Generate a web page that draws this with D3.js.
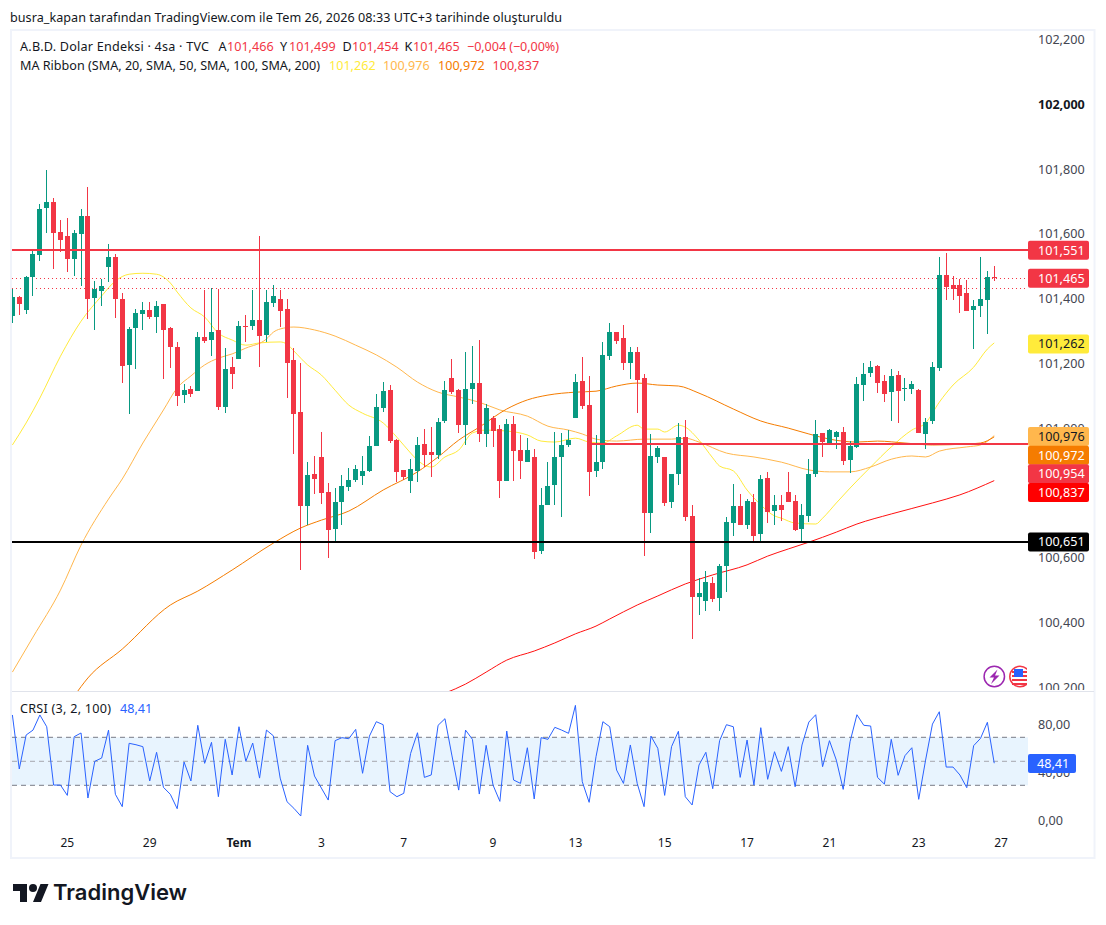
<!DOCTYPE html>
<html lang="tr">
<head>
<meta charset="utf-8">
<title>DXY</title>
<script src="https://cdn.jsdelivr.net/npm/d3@7"></script>
<style>
html,body{margin:0;padding:0;background:#fff}
svg{display:block}
text{font-family:"Noto Sans",sans-serif}
</style>
</head>
<body>
<div id="chart"></div>
<script>
const opens=[101.345,101.403,101.363,101.465,101.533,101.678,101.697,101.604,101.592,101.521,
101.598,101.653,101.400,101.422,101.496,101.527,101.397,101.194,101.308,101.351,
101.363,101.342,101.382,101.308,101.249,101.101,101.120,101.113,101.280,101.271,
101.302,101.064,101.187,101.212,101.314,101.314,101.332,101.286,101.385,101.397,
101.366,101.209,101.049,100.758,100.857,100.910,100.802,100.687,100.771,100.817,
100.839,100.851,100.867,100.944,101.061,101.116,100.962,100.870,100.836,100.867,
100.950,100.925,100.916,101.021,101.153,101.116,101.008,101.120,101.138,100.981,
101.030,100.996,100.836,101.012,100.931,100.894,100.910,100.620,100.762,100.823,
100.910,100.947,101.030,101.144,101.070,100.867,100.894,101.221,101.295,101.277,
101.200,101.234,101.153,100.737,100.910,100.910,100.771,100.857,100.971,100.728,
100.478,100.465,100.521,100.475,100.573,100.706,100.758,100.700,100.771,100.672,
100.845,100.743,100.762,100.802,100.774,100.687,100.728,100.857,100.984,100.950,
100.971,100.987,100.900,100.941,101.132,101.169,101.191,101.144,101.110,101.163,
101.120,101.120,101.116,100.981,101.021,101.184,101.471,101.440,101.440,101.416,
101.363,101.376,101.394,101.466];
const closes=[101.403,101.382,101.465,101.536,101.675,101.697,101.601,101.579,101.521,101.601,
101.653,101.397,101.428,101.437,101.527,101.397,101.191,101.305,101.354,101.363,
101.342,101.376,101.302,101.249,101.098,101.116,101.104,101.280,101.268,101.295,
101.064,101.181,101.166,101.314,101.311,101.332,101.283,101.388,101.407,101.360,
101.200,101.042,100.758,100.854,100.842,100.799,100.684,100.771,100.820,100.839,
100.873,100.867,100.944,101.064,101.113,100.959,100.864,100.848,100.873,100.947,
100.916,100.916,101.018,101.116,101.110,101.008,101.120,101.138,100.981,101.061,
100.990,100.836,101.012,100.928,100.897,100.931,100.617,100.762,100.820,100.910,
100.947,100.962,101.141,101.067,100.864,100.894,101.225,101.295,101.268,101.200,
101.234,101.147,100.737,100.913,100.938,100.768,100.857,100.971,100.725,100.478,
100.490,100.524,100.471,100.573,100.709,100.758,100.700,100.774,100.666,100.842,
100.740,100.762,100.746,100.771,100.684,100.731,100.857,100.981,100.956,100.993,
100.987,100.897,100.944,101.135,101.166,101.187,101.138,101.104,101.160,101.113,
101.123,101.135,100.984,101.018,101.187,101.471,101.434,101.428,101.407,101.360,
101.376,101.397,101.465,101.465];
const highs=[101.428,101.407,101.468,101.549,101.690,101.795,101.709,101.641,101.647,101.610,
101.675,101.743,101.453,101.459,101.567,101.536,101.416,101.311,101.366,101.388,
101.388,101.391,101.382,101.311,101.265,101.135,101.129,101.295,101.425,101.431,
101.428,101.246,101.218,101.329,101.348,101.425,101.592,101.425,101.440,101.425,
101.397,101.246,101.200,100.894,100.913,100.987,100.829,100.814,100.854,100.876,
100.885,100.913,100.975,101.104,101.141,101.132,100.965,100.870,100.903,100.971,
100.996,101.002,101.030,101.144,101.212,101.120,101.234,101.252,101.271,101.073,
101.036,101.008,101.027,101.036,100.978,100.968,100.934,100.814,100.894,100.987,
100.984,100.993,101.166,101.218,101.160,100.978,101.265,101.323,101.295,101.317,
101.249,101.249,101.166,100.981,100.944,100.910,100.857,101.015,101.024,100.762,
100.536,100.558,100.539,100.580,100.725,100.826,100.796,100.780,100.796,100.854,
100.864,100.793,100.793,100.864,100.793,100.765,100.903,101.024,100.984,100.996,
100.990,101.002,100.959,101.157,101.200,101.206,101.194,101.163,101.181,101.175,
101.153,101.144,101.120,101.030,101.203,101.527,101.539,101.468,101.459,101.456,
101.394,101.527,101.484,101.499];
const lows=[101.323,101.348,101.351,101.407,101.515,101.601,101.490,101.542,101.481,101.468,
101.437,101.336,101.302,101.376,101.450,101.339,101.138,101.042,101.181,101.302,
101.336,101.292,101.150,101.184,101.067,101.076,101.095,101.113,101.261,101.221,
101.055,101.045,101.120,101.212,101.265,101.302,101.187,101.265,101.373,101.311,
101.092,100.919,100.561,100.700,100.796,100.765,100.598,100.650,100.700,100.805,
100.833,100.823,100.864,100.944,101.049,100.953,100.833,100.839,100.799,100.833,
100.879,100.848,100.903,101.015,101.104,100.984,100.947,101.073,100.956,100.941,
100.941,100.783,100.836,100.836,100.842,100.894,100.595,100.610,100.762,100.762,
100.725,100.941,101.030,101.058,100.789,100.848,100.873,101.209,101.258,101.178,
101.150,101.045,100.604,100.675,100.891,100.758,100.752,100.823,100.712,100.348,
100.422,100.435,100.462,100.435,100.493,100.666,100.700,100.687,100.647,100.644,
100.706,100.700,100.712,100.771,100.681,100.647,100.709,100.848,100.910,100.947,
100.934,100.885,100.860,100.938,101.083,101.157,101.107,101.079,101.021,101.015,
101.083,101.104,100.984,100.934,101.012,101.175,101.394,101.394,101.354,101.360,
101.243,101.342,101.289,101.454];

const ma20Idx=[0,2,4,7,10,13,15,17,19,21,23,24,26,28,30,32,34,36,39,40,41,43,45,47,49,51,54,56,58,59,61,63,65,67,69,72,75,77,79,82,84,86,88,91,92,94,95,97,98,100,102,103,105,107,109,111,112,114,117,118,120,122,125,128,131,133,135,137,140,142,143];
const ma20=[100.947,101.015,101.092,101.221,101.329,101.407,101.453,101.474,101.477,101.474,101.447,101.419,101.370,101.342,101.292,101.271,101.255,101.262,101.265,101.258,101.237,101.194,101.163,101.116,101.070,101.045,101.015,100.971,100.922,100.900,100.879,100.910,100.931,100.984,100.993,100.990,100.978,100.959,100.956,100.968,100.956,100.953,100.975,101.008,100.996,100.996,100.987,101.008,101.002,100.962,100.907,100.882,100.867,100.808,100.762,100.728,100.721,100.706,100.703,100.721,100.768,100.814,100.879,100.941,100.993,101.015,101.079,101.132,101.187,101.243,101.262];
const ma50Idx=[0,3,7,10,14,16,19,21,22,24,26,28,30,32,34,37,38,39,41,44,47,50,53,56,59,62,65,68,71,75,78,81,83,85,88,92,96,98,100,104,108,112,116,119,122,125,128,131,133,135,139,141,143];
const ma50=[100.246,100.354,100.499,100.638,100.780,100.842,100.953,101.021,101.055,101.123,101.160,101.194,101.215,101.228,101.246,101.274,101.295,101.305,101.311,101.302,101.283,101.255,101.225,101.187,101.141,101.110,101.095,101.079,101.055,101.036,101.005,100.993,100.981,100.965,100.959,100.965,100.965,100.968,100.956,100.922,100.910,100.894,100.870,100.864,100.864,100.879,100.903,100.913,100.910,100.928,100.941,100.947,100.976];
const ma100Idx=[9,11,16,23,27,32,38,42,45,49,54,59,62,65,68,72,75,78,82,85,88,91,94,97,100,105,109,113,116,119,123,126,130,134,139,141,143];
const ma100=[100.172,100.228,100.317,100.453,100.496,100.561,100.644,100.691,100.715,100.743,100.808,100.864,100.910,100.962,101.002,101.058,101.086,101.101,101.110,101.113,101.129,101.138,101.132,101.129,101.107,101.058,101.021,100.999,100.981,100.965,100.956,100.959,100.953,100.947,100.950,100.953,100.972];
const ma200Idx=[63,66,69,72,76,79,82,85,87,91,94,98,102,107,110,113,116,120,123,128,134,138,143];
const ma200=[100.181,100.209,100.246,100.283,100.311,100.336,100.364,100.388,100.410,100.453,100.481,100.518,100.546,100.577,100.604,100.626,100.647,100.678,100.703,100.734,100.768,100.793,100.837];

const crsi=[88.6,43.6,71.9,76,88.6,78.8,30.2,30.2,21.6,70.5,73.6,19.4,50,52.7,76,22.5,12.2,65,63.8,62.2,
33.6,57.5,28.3,22.5,10.5,49.4,33.6,80,48.3,65.8,20.5,68.3,38.6,78.8,50,65.2,36,76,71.3,36,
16.3,10.8,4.4,63.3,37.7,27.7,17.7,67.2,69.7,68.8,76.6,40,71,83,80.5,24.7,20.5,23.3,56.6,73.8,
36.6,38.6,80,85.5,55.2,26,76,68.3,22.7,63.3,30.2,16.6,75.2,34.4,31.6,61.3,18.6,69.7,68.3,78.3,
76,73.3,96.6,33,15.8,53.8,83,78.8,42.7,31.6,63.6,31.6,12.2,71,60.8,21.6,62.2,75,20.5,13.6,
46.9,57.5,27.2,67.2,80.5,78.8,36.6,67.7,30.2,78,35,58,41.6,62.2,28.8,63.6,82.7,88.8,45.5,67.2,
51,26.6,66.3,88.8,80,79.4,36.6,31,68.3,38.3,54.7,61.3,18.3,51,81,91.3,45.2,45.2,38.6,28,
63,69.1,82.5,48.41];

const timeTickIdx=[8,20,33,45,57,70,82,95,107,119,132,144];
const timeTickLabels=["25","29","Tem","3","7","9","13","15","17","21","23","27"];
const priceTicks=[100.2,100.4,100.6,100.8,101.0,101.2,101.4,101.6,101.8,102.0,102.2];
const crsiTicks=[0,40,80];
const lastPrice=101.465, prevLevel=101.434;
const resistance=101.551, midLevel=100.954, midLevelStartIdx=84, support=100.651;
const priceLabelValues=[101.551,101.465,101.262,100.976,100.972,100.954,100.837,100.651];
const priceLabelFills=["#f23645","#f23645","#ffeb3b","#ffb74d","#f57c00","#f23645","#ff0000","#000000"];
const priceLabelText=["#fff","#fff","#131722","#131722","#fff","#fff","#fff","#fff"];

const W=1106,H=925;
const UP="#089981",DOWN="#f23645";
const L=12,R=1028;
const FS=12.6;
const svg=d3.select("#chart").append("svg").attr("width",W).attr("height",H).attr("viewBox",[0,0,W,H]);
const defs=svg.append("defs");
defs.append("clipPath").attr("id","pane").append("rect").attr("x",L).attr("y",31).attr("width",R-L).attr("height",660);
defs.append("clipPath").attr("id","axisClip").append("rect").attr("x",R).attr("y",31).attr("width",66).attr("height",659);
defs.append("clipPath").attr("id","iconClip").append("rect").attr("x",L).attr("y",655).attr("width",1027-L).attr("height",35);

const x=d3.scaleLinear().domain([0,143]).range([12.4,994.24]);
const y=d3.scaleLinear().domain([100.2,102.2]).range([687,39]);
const yc=d3.scaleLinear().domain([0,100]).range([821.3,701.3]);
const fmt3=d=>d3.format(".3f")(d).replace(".",",");
const fmt2=d=>d3.format(".2f")(d).replace(".",",");

// frame
svg.append("rect").attr("x",11).attr("y",30).attr("width",1083.5).attr("height",828).attr("fill","none").attr("stroke","#f0f3fa").attr("stroke-width",2);
svg.append("line").attr("x1",12).attr("x2",1094).attr("y1",691.5).attr("y2",691.5).attr("stroke","#e0e3eb");

// title
svg.append("text").attr("x",10).attr("y",21.5).attr("font-size",FS).attr("fill","#131722")
  .attr("textLength",552).attr("lengthAdjust","spacing")
  .text("busra_kapan tarafından TradingView.com ile Tem 26, 2026 08:33 UTC+3 tarihinde oluşturuldu");

const pane=svg.append("g").attr("clip-path","url(#pane)");

// MA lines
const lineOf=(idx,vals,col,w)=>{
  const line=d3.line().x((d,i)=>x(idx[i])).y(d=>y(d)).curve(d3.curveMonotoneX);
  pane.append("path").datum(vals).attr("d",line).attr("fill","none").attr("stroke",col).attr("stroke-width",w);
};
lineOf(ma20Idx,ma20,"#ffeb3b",1);
lineOf(ma50Idx,ma50,"#ffb74d",1);
lineOf(ma100Idx,ma100,"#f57c00",1);
lineOf(ma200Idx,ma200,"#ff1010",1);

// dotted price lines
[lastPrice,prevLevel].forEach(v=>{
  const py=Math.round(y(v)+.5)+.5;
  pane.append("line").attr("x1",L).attr("x2",R).attr("y1",py).attr("y2",py)
    .attr("stroke",DOWN).attr("stroke-width",1).attr("stroke-dasharray","1 3");
});

// candles
const idxs=d3.range(opens.length);
const gC=pane.append("g").attr("shape-rendering","crispEdges");
gC.selectAll(".w").data(idxs).join("rect").attr("class","w")
  .attr("x",i=>Math.floor(x(i))).attr("width",1)
  .attr("y",i=>y(highs[i])).attr("height",i=>y(lows[i])-y(highs[i]))
  .attr("fill",i=>closes[i]>=opens[i]?UP:DOWN);
gC.selectAll(".b").data(idxs).join("rect").attr("class","b")
  .attr("x",i=>Math.floor(x(i))-2).attr("width",5)
  .attr("y",i=>y(Math.max(opens[i],closes[i])))
  .attr("height",i=>Math.max(1,Math.abs(y(opens[i])-y(closes[i]))))
  .attr("fill",i=>closes[i]>=opens[i]?UP:DOWN);

// horizontal levels
const levelY=v=>Math.round(y(v))+1;
pane.append("line").attr("x1",L).attr("x2",R).attr("y1",levelY(resistance)).attr("y2",levelY(resistance)).attr("stroke",DOWN).attr("stroke-width",2);
pane.append("line").attr("x1",x(midLevelStartIdx)).attr("x2",R).attr("y1",levelY(midLevel)).attr("y2",levelY(midLevel)).attr("stroke",DOWN).attr("stroke-width",2);
pane.append("line").attr("x1",L).attr("x2",R).attr("y1",levelY(support)).attr("y2",levelY(support)).attr("stroke","#000").attr("stroke-width",2);

// legend
const leg=svg.append("g").attr("font-size",FS);
const put=(t,xx,yy,c,len)=>{
  const n=leg.append("text").attr("x",xx).attr("y",yy).attr("fill",c).text(t);
  if(len) n.attr("textLength",len).attr("lengthAdjust","spacing");
};
const r1=50.5,r2=69.5;
put("A.B.D. Dolar Endeksi · 4sa · TVC",20,r1,"#131722",189);
put("A",218.5,r1,"#131722");put("101,466",227,r1,DOWN);
put("Y",280,r1,"#131722");put("101,499",289,r1,DOWN);
put("D",342.5,r1,"#131722");put("101,454",352,r1,DOWN);
put("K",404.5,r1,"#131722");put("101,465",413,r1,DOWN);
put("−0,004 (−0,00%)",467,r1,DOWN,92);
put("MA Ribbon (SMA, 20, SMA, 50, SMA, 100, SMA, 200)",20,r2,"#131722",300);
put("101,262",329,r2,"#ffeb3b");put("100,976",383,r2,"#ffb74d");put("100,972",438,r2,"#f57c00");put("100,837",492.5,r2,DOWN);

// price axis
const axG=svg.append("g").attr("clip-path","url(#axisClip)");
axG.selectAll("text").data(priceTicks).join("text")
  .attr("x",1038).attr("y",d=>y(d)+5).attr("font-size",FS)
  .attr("font-weight",d=>d===102?700:400)
  .attr("fill",d=>d===102?"#131722":"#434651")
  .text(fmt3);

// price labels with simple de-overlap
let lastY=-100;
priceLabelValues.forEach((v,i)=>{
  const cy=Math.max(y(v)+1,lastY+18.6); lastY=cy;
  svg.append("rect").attr("x",R).attr("y",cy-9.5).attr("width",61).attr("height",19).attr("rx",2).attr("fill",priceLabelFills[i]);
  svg.append("text").attr("x",1038).attr("y",cy+4.5).attr("font-size",FS).attr("fill",priceLabelText[i]).text(fmt3(v));
});

// CRSI pane
svg.append("rect").attr("x",L).attr("width",R-L).attr("y",yc(70)).attr("height",yc(30)-yc(70)).attr("fill","#2196f3").attr("fill-opacity",.1);
[[70,"#787b86"],[50,"#a5a7ae"],[30,"#787b86"]].forEach(([v,c])=>{
  svg.append("line").attr("x1",L).attr("x2",R).attr("y1",yc(v)).attr("y2",yc(v)).attr("stroke",c).attr("stroke-dasharray","5 4");
});
svg.append("path").datum(crsi).attr("fill","none").attr("stroke","#2962ff").attr("stroke-width",1)
  .attr("d",d3.line().x((d,i)=>x(i)).y(d=>yc(d)));
svg.append("text").attr("x",20).attr("y",712.5).attr("font-size",FS).attr("fill","#131722")
  .attr("textLength",91).attr("lengthAdjust","spacing").text("CRSI (3, 2, 100)");
svg.append("text").attr("x",120).attr("y",712.5).attr("font-size",FS).attr("fill","#2962ff").text(fmt2(crsi[crsi.length-1]));
svg.selectAll(".ct").data(crsiTicks).join("text").attr("class","ct")
  .attr("x",1038).attr("y",d=>yc(d)+3.5).attr("font-size",FS).attr("fill","#434651").text(fmt2);
svg.append("rect").attr("x",R).attr("y",754).attr("width",48).attr("height",19).attr("rx",2).attr("fill","#2962ff");
svg.append("text").attr("x",1037).attr("y",768).attr("font-size",FS).attr("fill","#fff").text(fmt2(crsi[crsi.length-1]));

// time axis
svg.selectAll(".tt").data(timeTickIdx).join("text").attr("class","tt")
  .attr("x",d=>x(d)).attr("y",847).attr("text-anchor","middle").attr("font-size",12)
  .attr("font-weight",(d,i)=>timeTickLabels[i]==="Tem"?700:400)
  .attr("fill","#131722").text((d,i)=>timeTickLabels[i]);

// event icons
const ic=svg.append("g");
ic.append("circle").attr("cx",994.3).attr("cy",676.5).attr("r",10.2).attr("fill","#fff").attr("stroke","#9c27b0").attr("stroke-width",1.5);
ic.append("path").attr("d","M997.5 669.5 L989.5 677.5 L994 677.5 L991 684 L999.5 675.5 L995 675.5 Z").attr("fill","#9c27b0");
const fl=svg.append("g").attr("clip-path","url(#iconClip)");
fl.append("circle").attr("cx",1020).attr("cy",676.5).attr("r",10.2).attr("fill","#fff").attr("stroke","#f23645").attr("stroke-width",1.5);
[671,675,679,683].forEach(yy=>fl.append("rect").attr("x",1012).attr("y",yy).attr("width",16).attr("height",2).attr("fill","#f23645"));
fl.append("rect").attr("x",1014).attr("y",669).attr("width",9).attr("height",8).attr("fill","#2962ff");

// logo
const lg=svg.append("g").attr("transform","translate(13,880)");
lg.append("path").attr("d","M14 22H7V11H0V4h14v18zM28 22h-8l7.5-18h8L28 22z").attr("fill","#131722");
lg.append("circle").attr("cx",20).attr("cy",8).attr("r",4).attr("fill","#131722");
svg.append("text").attr("x",53).attr("y",900).attr("font-size",22).attr("font-weight",600).attr("fill","#131722").style("font-family","Inter,sans-serif").text("TradingView");
</script>
</body>
</html>
